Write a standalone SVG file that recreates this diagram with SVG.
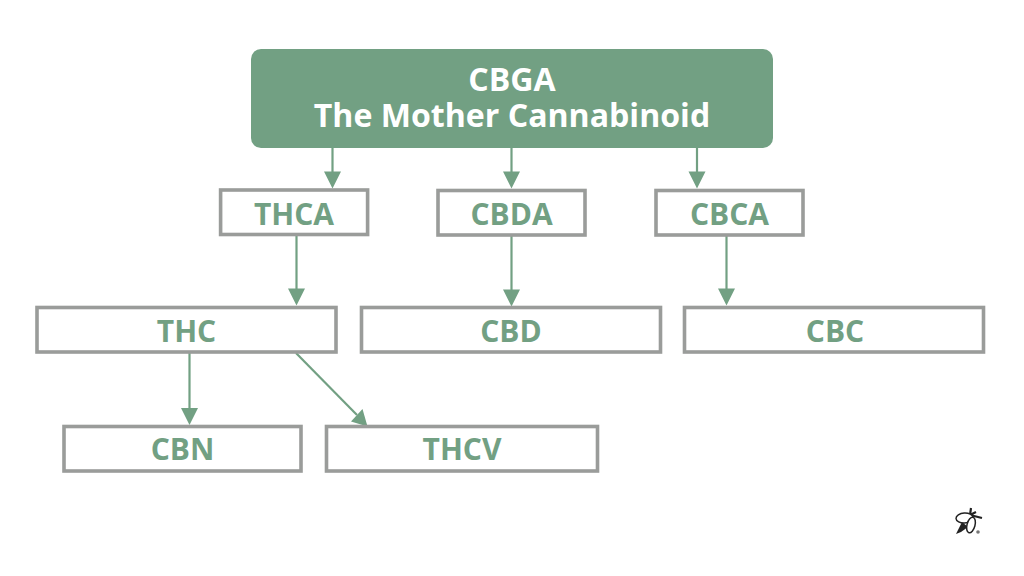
<svg xmlns="http://www.w3.org/2000/svg" width="1024" height="576" viewBox="0 0 1024 576">
<style>
.box{fill:#fff;stroke:#9a9c9a;stroke-width:3.6}
.lbl{font-family:"Open Sans","Noto Sans",sans-serif;font-weight:700;font-size:30px;fill:#72a083;text-anchor:middle}
.top{font-family:"Open Sans","Noto Sans",sans-serif;font-weight:700;font-size:32.100px;fill:#fff;text-anchor:middle}
.c{stroke:#72a083;stroke-width:2.2;fill:none}
.h{fill:#72a083}
.bee{fill:#fff;stroke:#222;stroke-width:1.5}
</style>
<rect width="1024" height="576" fill="#fff"/>
<g id="connectors">
<path class="c" d="M332.500 147V174"/><path class="h" d="M324 171.500H341L332.500 188.500Z"/>
<path class="c" d="M511.500 147V174"/><path class="h" d="M503 171.500H520L511.500 188.500Z"/>
<path class="c" d="M697 147V174"/><path class="h" d="M688.500 171.500H705.500L697 188.500Z"/>
<path class="c" d="M296.500 235V291"/><path class="h" d="M288 288.500H305L296.500 305.500Z"/>
<path class="c" d="M511.500 235V291"/><path class="h" d="M503 289.500H520L511.500 306.500Z"/>
<path class="c" d="M726.500 235V291"/><path class="h" d="M718 288.500H735L726.500 305.500Z"/>
<path class="c" d="M189.500 352V410"/><path class="h" d="M181 408H198L189.500 425Z"/>
<path class="c" d="M296 353L357 415"/><path class="h" d="M351 421.500L362.500 409L367.500 426.500Z"/>
</g>
<g id="cbga"><rect x="251" y="49" width="522" height="99" rx="10" fill="#72a083"/><text class="top"><tspan x="512" y="90.500">CBGA</tspan><tspan x="512" y="126.500">The Mother Cannabinoid</tspan></text></g>
<g id="thca"><rect class="box" x="220.600" y="190" width="147" height="44.500"/><text class="lbl" x="294" y="224.500">THCA</text></g>
<g id="cbda"><rect class="box" x="438" y="190.500" width="147" height="44.500"/><text class="lbl" x="511.500" y="224.500">CBDA</text></g>
<g id="cbca"><rect class="box" x="656" y="190.500" width="147" height="44.500"/><text class="lbl" x="729.500" y="224.500">CBCA</text></g>
<g id="thc"><rect class="box" x="37" y="307.500" width="299" height="44.500"/><text class="lbl" x="186.500" y="341.500">THC</text></g>
<g id="cbd"><rect class="box" x="361.500" y="307.500" width="299" height="44.500"/><text class="lbl" x="511" y="341.500">CBD</text></g>
<g id="cbc"><rect class="box" x="684.500" y="307.500" width="299" height="44.500"/><text class="lbl" x="835" y="341.500">CBC</text></g>
<g id="cbn"><rect class="box" x="64" y="426.500" width="237" height="44.500"/><text class="lbl" x="182.500" y="460">CBN</text></g>
<g id="thcv"><rect class="box" x="326.500" y="426.500" width="271" height="44.500"/><text class="lbl" x="462" y="460">THCV</text></g>
<g id="bee-logo">
<path d="M962 522L968 527L961 532L956 534Z" fill="#222"/>
<path d="M970 515L971 508M970 515L982 518M970 515L976 512" stroke="#222" stroke-width="2.200" fill="none"/>
<ellipse class="bee" cx="964.500" cy="518" rx="8.500" ry="5" transform="rotate(-3 964.500 518)"/>
<ellipse class="bee" cx="971" cy="525" rx="4" ry="8" transform="rotate(15 971 525)"/>
<circle cx="978" cy="532" r="1.800" fill="#777"/>
</g>
</svg>
